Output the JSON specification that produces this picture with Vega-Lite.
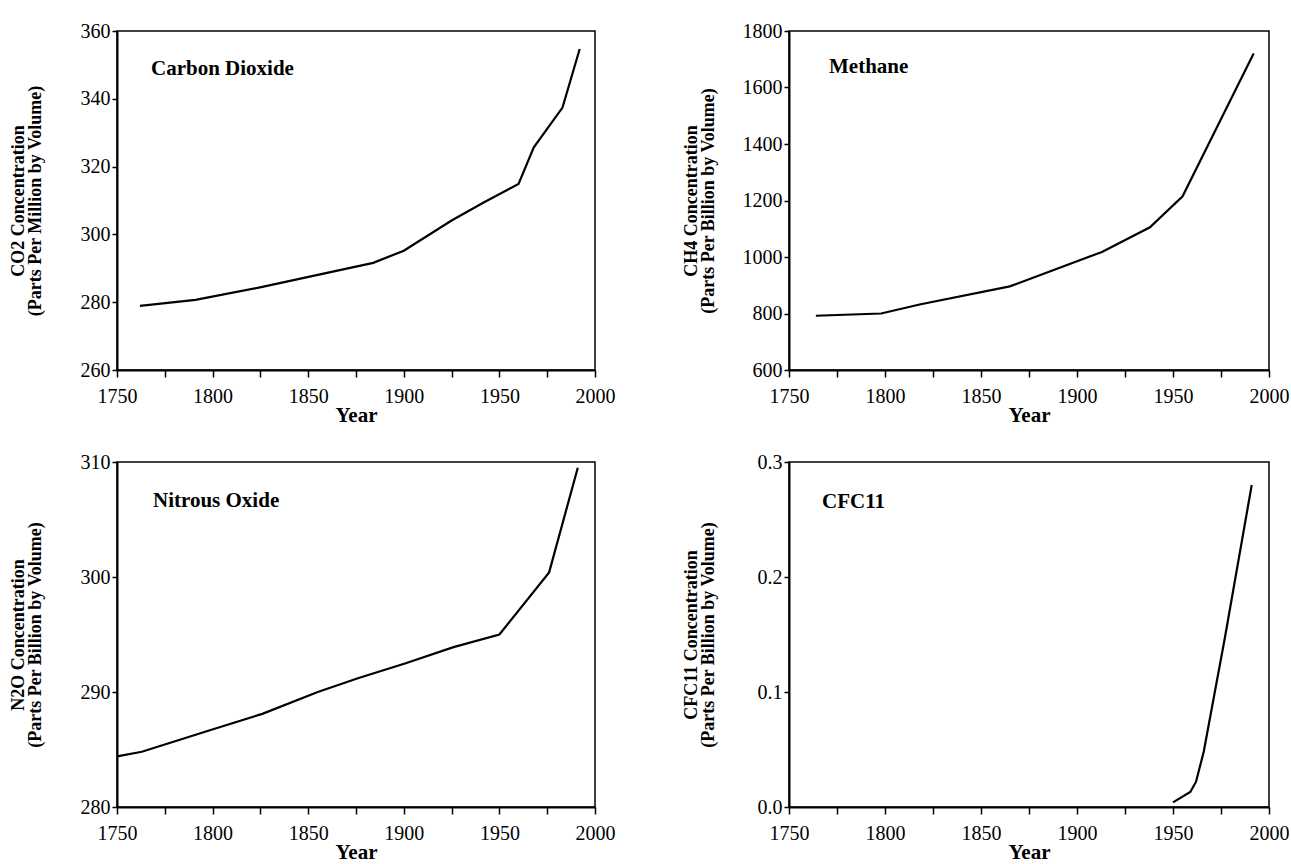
{
  "$schema": "https://vega.github.io/schema/vega-lite/v6.json",
  "padding": {"left": 8, "top": 20, "right": 0, "bottom": 0},
  "background": "white",
  "datasets": {
    "co2": [
      {"year": 1762, "ppm": 278.9}, {"year": 1791, "ppm": 280.7}, {"year": 1826, "ppm": 284.5},
      {"year": 1884, "ppm": 291.6}, {"year": 1900, "ppm": 295.2}, {"year": 1925, "ppm": 304.1},
      {"year": 1942, "ppm": 309.5}, {"year": 1960, "ppm": 314.9}, {"year": 1968, "ppm": 325.7},
      {"year": 1983, "ppm": 337.4}, {"year": 1992, "ppm": 354.7}
    ],
    "ch4": [
      {"year": 1764, "ppb": 792}, {"year": 1798, "ppb": 800}, {"year": 1818, "ppb": 832},
      {"year": 1865, "ppb": 896}, {"year": 1913, "ppb": 1018}, {"year": 1938, "ppb": 1105},
      {"year": 1955, "ppb": 1215}, {"year": 1992, "ppb": 1720}
    ],
    "n2o": [
      {"year": 1750, "ppb": 284.4}, {"year": 1763, "ppb": 284.8}, {"year": 1799, "ppb": 286.7},
      {"year": 1826, "ppb": 288.1}, {"year": 1855, "ppb": 290.0}, {"year": 1876, "ppb": 291.2},
      {"year": 1901, "ppb": 292.5}, {"year": 1926, "ppb": 293.9}, {"year": 1950, "ppb": 295.0},
      {"year": 1976, "ppb": 300.4}, {"year": 1991, "ppb": 309.5}
    ],
    "cfc11": [
      {"year": 1950, "ppb": 0.004}, {"year": 1959, "ppb": 0.013}, {"year": 1962, "ppb": 0.022},
      {"year": 1966, "ppb": 0.048}, {"year": 1977, "ppb": 0.147}, {"year": 1991, "ppb": 0.28}
    ]
  },
  "columns": 2,
  "align": "each",
  "spacing": {"row": 25, "column": 65},
  "concat": [
    {
      "width": 478, "height": 339,
      "title": {"text": "Carbon Dioxide", "dx": 34, "offset": -58},
      "data": {"name": "co2"},
      "mark": {"type": "line", "color": "black", "strokeWidth": 2.2},
      "encoding": {
        "x": {"field": "year", "type": "quantitative", "scale": {"domain": [1750, 2000], "nice": false},
              "axis": {"title": "Year", "format": "d", "values": [1750,1775,1800,1825,1850,1875,1900,1925,1950,1975,2000], "labelExpr": "datum.value % 50 == 0 ? datum.label : ''"}},
        "y": {"field": "ppm", "type": "quantitative", "scale": {"domain": [260, 360], "nice": false, "zero": false},
              "axis": {"title": ["CO2 Concentration", "(Parts Per Million by Volume)"], "values": [260,280,300,320,340,360], "format": "d", "titlePadding": 36}}
      }
    },
    {
      "width": 480, "height": 339,
      "title": {"text": "Methane", "dx": 40, "offset": -56},
      "data": {"name": "ch4"},
      "mark": {"type": "line", "color": "black", "strokeWidth": 2.2},
      "encoding": {
        "x": {"field": "year", "type": "quantitative", "scale": {"domain": [1750, 2000], "nice": false},
              "axis": {"title": "Year", "format": "d", "values": [1750,1775,1800,1825,1850,1875,1900,1925,1950,1975,2000], "labelExpr": "datum.value % 50 == 0 ? datum.label : ''"}},
        "y": {"field": "ppb", "type": "quantitative", "scale": {"domain": [600, 1800], "nice": false, "zero": false},
              "axis": {"title": ["CH4 Concentration", "(Parts Per Billion by Volume)"], "values": [600,800,1000,1200,1400,1600,1800], "format": "d", "titlePadding": 25}}
      }
    },
    {
      "width": 478, "height": 345,
      "title": {"text": "Nitrous Oxide", "dx": 36, "offset": -59},
      "data": {"name": "n2o"},
      "mark": {"type": "line", "color": "black", "strokeWidth": 2.2},
      "encoding": {
        "x": {"field": "year", "type": "quantitative", "scale": {"domain": [1750, 2000], "nice": false},
              "axis": {"title": "Year", "format": "d", "values": [1750,1775,1800,1825,1850,1875,1900,1925,1950,1975,2000], "labelExpr": "datum.value % 50 == 0 ? datum.label : ''"}},
        "y": {"field": "ppb", "type": "quantitative", "scale": {"domain": [280, 310], "nice": false, "zero": false},
              "axis": {"title": ["N2O Concentration", "(Parts Per Billion by Volume)"], "values": [280,290,300,310], "format": "d", "titlePadding": 36}}
      }
    },
    {
      "width": 480, "height": 345,
      "title": {"text": "CFC11", "dx": 33, "offset": -60},
      "data": {"name": "cfc11"},
      "mark": {"type": "line", "color": "black", "strokeWidth": 2.2},
      "encoding": {
        "x": {"field": "year", "type": "quantitative", "scale": {"domain": [1750, 2000], "nice": false},
              "axis": {"title": "Year", "format": "d", "values": [1750,1775,1800,1825,1850,1875,1900,1925,1950,1975,2000], "labelExpr": "datum.value % 50 == 0 ? datum.label : ''"}},
        "y": {"field": "ppb", "type": "quantitative", "scale": {"domain": [0, 0.3], "nice": false},
              "axis": {"title": ["CFC11 Concentration", "(Parts Per Billion by Volume)"], "values": [0,0.1,0.2,0.3], "format": ".1f", "titlePadding": 40}}
      }
    }
  ],
  "config": {
    "font": "Liberation Serif",
    "view": {"stroke": "black", "strokeWidth": 1.5},
    "axis": {
      "grid": false, "domainColor": "black", "domainWidth": 2, "tickColor": "black", "tickWidth": 1.5,
      "labelColor": "black", "labelFont": "Liberation Serif", "labelFontSize": 20,
      "titleFont": "Liberation Serif", "titleFontWeight": "bold", "titleColor": "black"
    },
    "axisX": {"tickSize": 7, "labelPadding": 9, "titleFontSize": 21, "titlePadding": -2, "labelFlush": false, "labelOverlap": false},
    "axisY": {"tickSize": 5, "labelPadding": 2, "titleFontSize": 18, "titleLineHeight": 17},
    "title": {"font": "Liberation Serif", "fontSize": 21, "fontWeight": "bold", "color": "black", "anchor": "start", "frame": "group", "baseline": "alphabetic"}
  }
}
